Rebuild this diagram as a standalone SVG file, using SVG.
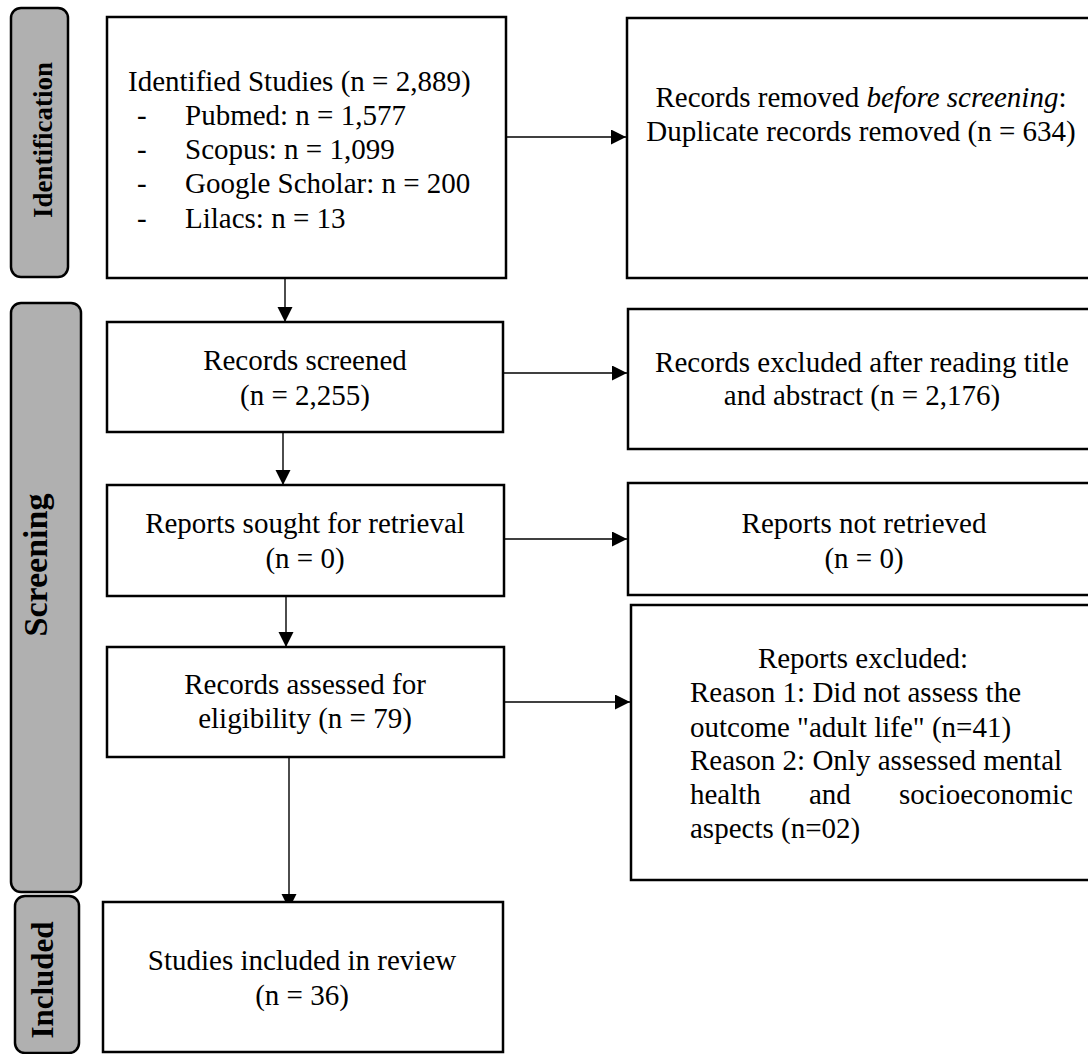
<svg xmlns="http://www.w3.org/2000/svg" width="1088" height="1054" viewBox="0 0 1088 1054">
<style>
.box{fill:#fff;stroke:#000;stroke-width:2.5}
.tab{fill:#b0b0b0;stroke:#000;stroke-width:2.5}
.t{font-family:"Liberation Serif","Times New Roman",serif;font-size:29px;fill:#000}
.c{text-anchor:middle}
.tt{font-family:"Liberation Serif","Times New Roman",serif;font-weight:bold;fill:#000;text-anchor:middle}
.conn{stroke:#000;stroke-width:1.4;fill:none;marker-end:url(#ah)}
</style>
<defs>
<marker id="ah" markerUnits="userSpaceOnUse" markerWidth="16" markerHeight="16" refX="15" refY="7.5" orient="auto">
<path d="M0,0 L15,7.5 L0,15 z" fill="#000"/>
</marker>
</defs>
<rect width="1088" height="1054" fill="#fff"/>

<g id="tab-identification">
<rect class="tab" x="11" y="8" width="57" height="269" rx="10"/>
<text class="tt" font-size="27" transform="translate(52,140) rotate(-90)">Identification</text>
</g>
<g id="tab-screening">
<rect class="tab" x="11" y="303" width="70" height="589" rx="10"/>
<text class="tt" font-size="34" transform="translate(47,565) rotate(-90)">Screening</text>
</g>
<g id="tab-included">
<rect class="tab" x="15" y="896" width="64" height="157" rx="10"/>
<text class="tt" font-size="31" transform="translate(53,980) rotate(-90)">Included</text>
</g>

<g id="connectors">
<line class="conn" x1="506" y1="137" x2="626" y2="137"/>
<line class="conn" x1="285" y1="266" x2="285" y2="322"/>
<line class="conn" x1="503" y1="373" x2="627" y2="373"/>
<line class="conn" x1="283" y1="428" x2="283" y2="485"/>
<line class="conn" x1="504" y1="539" x2="627" y2="539"/>
<line class="conn" x1="286" y1="590" x2="286" y2="647"/>
<line class="conn" x1="504" y1="702" x2="630" y2="702"/>
<line class="conn" x1="289" y1="753" x2="289" y2="909"/>
</g>

<g id="identified">
<rect class="box" x="107" y="17" width="399" height="261"/>
<text class="t" font-size="30" x="128" y="91">Identified Studies (n = 2,889)</text>
<text class="t" font-size="30" y="125"><tspan x="137">-</tspan><tspan x="185">Pubmed: n = 1,577</tspan></text>
<text class="t" font-size="30" y="159"><tspan x="137">-</tspan><tspan x="185">Scopus: n = 1,099</tspan></text>
<text class="t" font-size="30" y="193"><tspan x="137">-</tspan><tspan x="185">Google Scholar: n = 200</tspan></text>
<text class="t" font-size="30" y="228"><tspan x="137">-</tspan><tspan x="185">Lilacs: n = 13</tspan></text>
</g>

<g id="removed">
<rect class="box" x="627" y="18" width="469" height="260"/>
<text class="t c" x="861" y="107">Records removed <tspan font-style="italic">before screening</tspan>:</text>
<text class="t c" x="861" y="141">Duplicate records removed (n = 634)</text>
</g>

<g id="screened">
<rect class="box" x="107" y="322" width="396" height="110"/>
<text class="t c" x="305" y="370">Records screened</text>
<text class="t c" x="305" y="405">(n = 2,255)</text>
</g>

<g id="excluded-title">
<rect class="box" x="628" y="309" width="468" height="140"/>
<text class="t c" x="862" y="372">Records excluded after reading title</text>
<text class="t c" x="862" y="405">and abstract (n = 2,176)</text>
</g>

<g id="sought">
<rect class="box" x="107" y="485" width="397" height="111"/>
<text class="t c" x="305" y="533">Reports sought for retrieval</text>
<text class="t c" x="305" y="568">(n = 0)</text>
</g>

<g id="not-retrieved">
<rect class="box" x="628" y="483" width="468" height="112"/>
<text class="t c" x="864" y="533">Reports not retrieved</text>
<text class="t c" x="864" y="568">(n = 0)</text>
</g>

<g id="assessed">
<rect class="box" x="107" y="647" width="397" height="110"/>
<text class="t c" x="305" y="694">Records assessed for</text>
<text class="t c" x="305" y="728">eligibility (n = 79)</text>
</g>

<g id="reports-excluded">
<rect class="box" x="631" y="605" width="465" height="275"/>
<text class="t c" x="863" y="668">Reports excluded:</text>
<text class="t" x="690" y="702">Reason 1: Did not assess the</text>
<text class="t" x="690" y="737">outcome "adult life" (n=41)</text>
<text class="t" x="690" y="770">Reason 2: Only assessed mental</text>
<text class="t" y="804"><tspan x="690">health</tspan><tspan x="809">and</tspan><tspan x="899">socioeconomic</tspan></text>
<text class="t" x="690" y="838">aspects (n=02)</text>
</g>

<g id="included">
<rect class="box" x="103" y="902" width="400" height="150"/>
<text class="t c" x="302" y="970">Studies included in review</text>
<text class="t c" x="302" y="1005">(n = 36)</text>
</g>
</svg>
